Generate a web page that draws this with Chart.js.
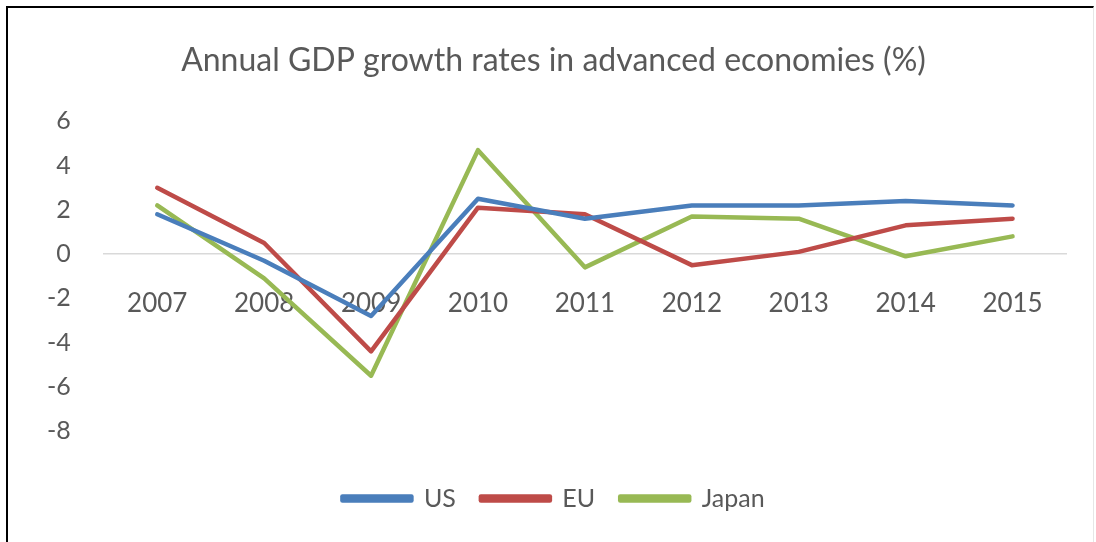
<!DOCTYPE html>
<html>
<head>
<meta charset="utf-8">
<script src="https://cdn.jsdelivr.net/npm/chart.js@4.4.1/dist/chart.umd.min.js"></script>
<style>
  html, body { margin: 0; padding: 0; background: #ffffff; }
  #frame {
    position: absolute; left: 6px; top: 6px;
    width: 1088px; height: 536px;
    border-top: 2px solid #000; border-left: 2px solid #000;
    border-right: 1px solid #e6e6e6;
    box-sizing: border-box;
  }
  #wrap { position: absolute; left: 0; top: 0; width: 1085px; height: 534px; }
</style>
</head>
<body>
<div id="frame"><div id="wrap"><canvas id="c"></canvas></div></div>
<script>
// Annual real GDP growth, percent
const years = ['2007', '2008', '2009', '2010', '2011', '2012', '2013', '2014', '2015'];
const usGrowth    = [1.8, -0.3, -2.8, 2.5, 1.6, 2.2, 2.2, 2.4, 2.2];
const euGrowth    = [3.0, 0.5, -4.4, 2.1, 1.8, -0.5, 0.1, 1.3, 1.6];
const japanGrowth = [2.2, -1.1, -5.5, 4.7, -0.6, 1.7, 1.6, -0.1, 0.8];
const yTicks = [-8, -6, -4, -2, 0, 2, 4, 6];

const FONT = 'Lato, "Open Sans", sans-serif';
const TEXT = '#595959';

function series(label, data, color) {
  return {
    label, data,
    xAxisID: 'x', yAxisID: 'y',
    borderColor: color, backgroundColor: color,
    borderWidth: 4.5, pointRadius: 0, tension: 0,
    borderCapStyle: 'round', borderJoinStyle: 'round'
  };
}

// invisible strip used only as spacing around the plot
function spacer(axis, position, size) {
  return {
    type: axis === 'x' ? 'category' : 'linear',
    axis, position,
    grid: { display: false, drawTicks: false },
    border: { display: false },
    ticks: { display: false },
    afterFit: s => { if (axis === 'x') s.height = size; else s.width = size; }
  };
}

new Chart(document.getElementById('c'), {
  type: 'line',
  data: {
    labels: years,
    datasets: [
      series('US', usGrowth, '#4a7ebb'),
      series('EU', euGrowth, '#be4b48'),
      series('Japan', japanGrowth, '#98b954')
    ]
  },
  options: {
    responsive: true,
    maintainAspectRatio: false,
    animation: false,
    layout: { padding: { left: 6, right: 0, top: 0, bottom: 21 } },
    plugins: {
      title: {
        display: true,
        text: 'Annual GDP growth rates in advanced economies (%)',
        color: TEXT,
        font: { family: FONT, size: 32, weight: 'normal' },
        padding: { top: 33, bottom: 42 }
      },
      legend: {
        position: 'bottom',
        labels: {
          color: TEXT,
          font: { family: FONT, size: 25 },
          boxWidth: 69, boxHeight: 4,
          padding: 25
        }
      },
      tooltip: { enabled: false }
    },
    scales: {
      x: {
        type: 'category',
        position: { y: 0 },
        offset: true,
        grid: { display: false, drawTicks: false },
        border: { display: true, color: '#d9d9d9', width: 1.5 },
        ticks: { color: TEXT, font: { family: FONT, size: 26 }, padding: 34, maxRotation: 0 }
      },
      y: {
        min: -8, max: 6,
        afterBuildTicks: s => { s.ticks = yTicks.map(v => ({ value: v })); },
        grid: { display: false, drawTicks: false },
        border: { display: false },
        ticks: { color: TEXT, font: { family: FONT, size: 25 }, padding: 33 }
      },
      xGap: spacer('x', 'bottom', 30),
      yGap: spacer('y', 'right', 27)
    }
  }
});
</script>
</body>
</html>
